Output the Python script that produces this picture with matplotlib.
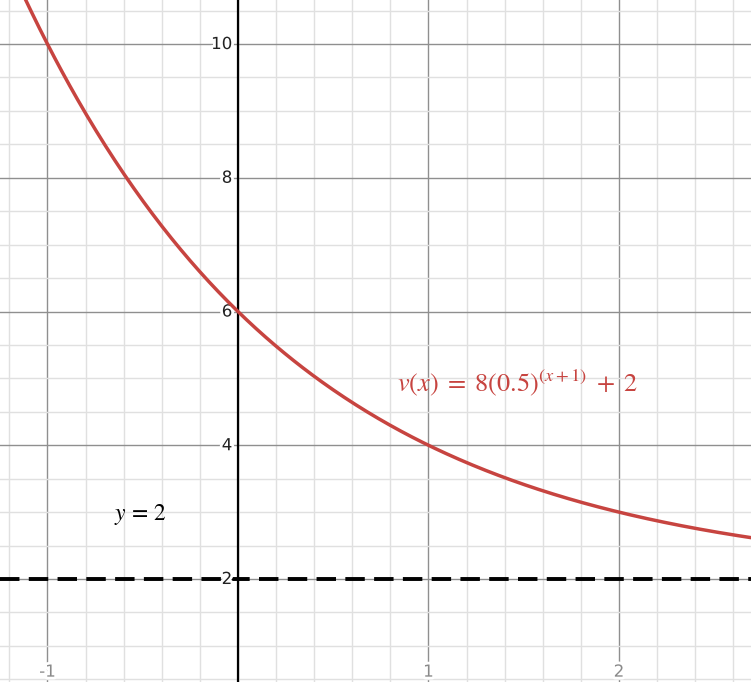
import matplotlib.pyplot as plt
import numpy as np
import matplotlib.patheffects as pe

plt.rcParams['mathtext.fontset'] = 'stix'

# v(x) = a * b^(x + h) + k
a, b, h, k = 8, 0.5, 1, 2
asymptote = 2

x_min, x_max = -1.249, 2.693
y_min, y_max = 0.46, 10.658

x_ticks = [-1, 1, 2]
y_ticks = [2, 4, 6, 8, 10]

red = '#c74440'

fig = plt.figure(figsize=(7.51, 6.82), dpi=100)
ax = fig.add_axes([0, 0, 1, 1])
ax.set_xlim(x_min, x_max)
ax.set_ylim(y_min, y_max)
ax.set_axis_off()

# grid
for xv in np.arange(-1.2, 2.8, 0.2):
    xv = round(xv, 1)
    major = abs(xv - round(xv)) < 1e-9
    ax.axvline(xv, color='#8f8f8f' if major else '#e0e0e0', lw=1.0, zorder=0)
for yv in np.arange(0.5, 11, 0.5):
    major = abs(yv / 2 - round(yv / 2)) < 1e-9
    ax.axhline(yv, color='#8f8f8f' if major else '#e0e0e0', lw=1.0, zorder=0)

# y axis
ax.axvline(0, color='black', lw=1.6, zorder=1)

halo = [pe.withStroke(linewidth=4, foreground='white')]
for yv in y_ticks:
    ax.text(-0.03, yv, str(yv), ha='right', va='center', fontsize=12,
            color='#222222', path_effects=halo, zorder=3)
for xv in x_ticks:
    ax.text(xv, y_min + 0.02, str(xv), ha='center', va='bottom', fontsize=12,
            color='#8a8a8a', path_effects=halo, zorder=3)

# asymptote
ax.axhline(asymptote, color='black', lw=2.8, ls=(0, (5, 2.4)), zorder=2)

# curve
xs = np.linspace(x_min, x_max, 400)
ax.plot(xs, a * b ** (xs + h) + k, color=red, lw=2.5, zorder=4)

ax.text(-0.514, 2.96, r'$y\,=\,2$', ha='center', va='center', fontsize=17,
        color='black', zorder=5)
ax.text(0.835, 4.93, r'$v(x)\;=\;8\left(0.5\right)^{\left(x+1\right)}\;+\;2$',
        ha='left', va='center', fontsize=19, color=red, zorder=5)

fig.savefig('out.png', dpi=100)
